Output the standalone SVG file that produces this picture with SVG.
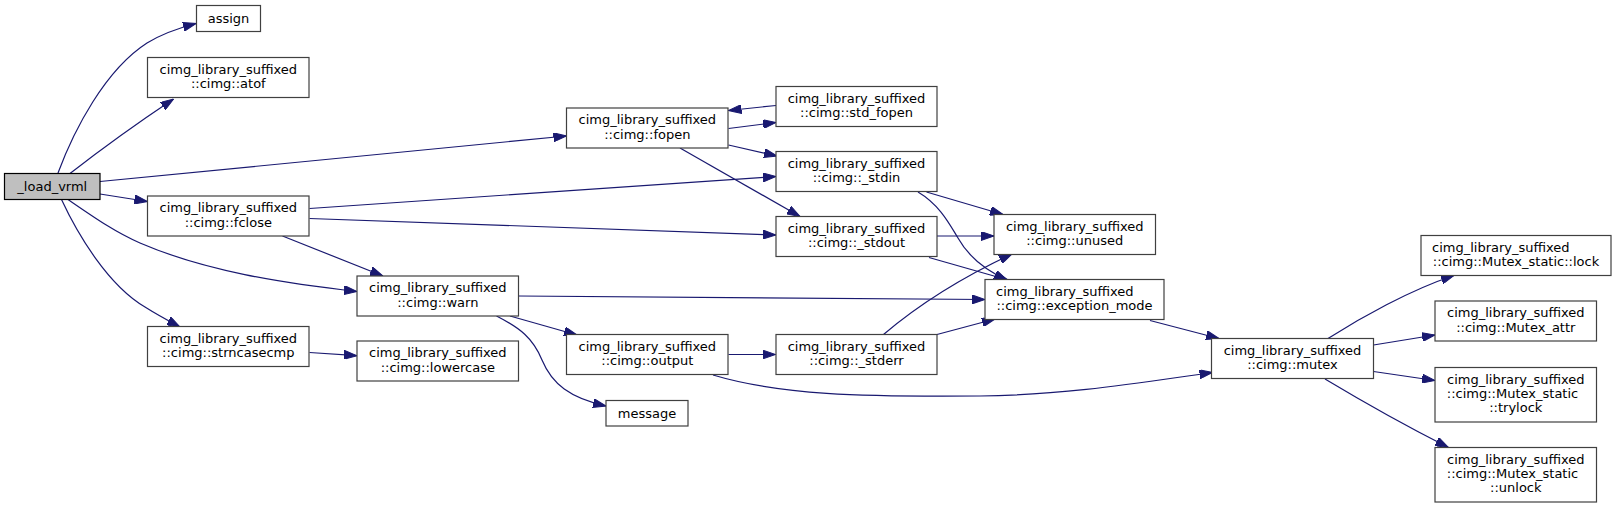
<svg xmlns="http://www.w3.org/2000/svg" width="1616" height="508" viewBox="0 0 1616 508">
<style>
.n rect{fill:#ffffff;stroke:#404040;stroke-width:1.2}
.root rect{fill:#bfbfbf;stroke:#000000}
text{font-family:"DejaVu Sans","Liberation Sans",sans-serif;font-size:13px;fill:#000000;text-anchor:middle}
text.l{text-anchor:start}
#edges path{fill:none;stroke:#191970;stroke-width:1.2;marker-end:url(#ah)}
</style>
<defs>
<marker id="ah" markerUnits="userSpaceOnUse" markerWidth="13" markerHeight="9" refX="13" refY="4.5" orient="auto" viewBox="0 0 13 9">
<path d="M0,0 L13,4.5 L0,9 Z" fill="#191970" stroke="#191970" stroke-width="1"/>
</marker>
</defs>
<rect width="1616" height="508" fill="#ffffff"/>
<g id="edges">
<path d="M58,173 C74,130 105,70 147,43 C160,35 175,29 196,23.5"/>
<path d="M70,173.5 C95,154 130,128 173.5,99"/>
<path d="M100,181.5 L566.5,136"/>
<path d="M100,194 L147.5,201.5"/>
<path d="M68,199.5 C95,218 115,232 140,243 C205,271 282,283 357,291.5"/>
<path d="M61.5,199.5 C78,235 108,285 145,307 C156,314 167,320 180,327"/>
<path d="M309.5,208.5 L776,176.5"/>
<path d="M309.5,218.5 L776,235"/>
<path d="M282.5,236 L383,276"/>
<path d="M309.5,352.5 L357,355.7"/>
<path d="M728.5,128.5 L776,122.5"/>
<path d="M776,105.5 L728.5,110.5"/>
<path d="M728.5,145 L777,156"/>
<path d="M680,148 L800,216.5"/>
<path d="M926.5,192 L1003,214.5"/>
<path d="M918,192 C940,205 950,225 958,238 C968,256 985,270 1007,280"/>
<path d="M937,236 L994,236"/>
<path d="M929,257.5 L1008,280"/>
<path d="M518.5,296 L985,299.5"/>
<path d="M510,316 L577,335"/>
<path d="M496.5,316 C520,328 533,338 542,360 C552,384 570,398 606,406"/>
<path d="M728.5,354.5 L775.5,354.5"/>
<path d="M713,375 C780,395 860,397 980,396 C1070,395 1150,381 1212.5,372.5"/>
<path d="M883.5,334.5 C910,312 950,283 1012,254"/>
<path d="M937,334.5 L995,319"/>
<path d="M1150,320.5 L1219,338.5"/>
<path d="M1328,338.5 C1360,318 1410,290 1454,275.5"/>
<path d="M1373.5,345 L1435,335"/>
<path d="M1373.5,371.5 L1435,380.5"/>
<path d="M1325,379 C1360,400 1410,428 1448.5,447.5"/>
</g>
<g id="n_load_vrml" class="n root"><rect x="4.5" y="173.5" width="95.5" height="26"/><text x="52.3" y="191">_load_vrml</text></g>
<g id="n_assign" class="n"><rect x="196.5" y="5.5" width="64" height="26"/><text x="228.5" y="23">assign</text></g>
<g id="n_atof" class="n"><rect x="147.5" y="57.5" width="161.5" height="40"/><text x="228.3" y="73.5">cimg_library_suffixed</text><text x="228.3" y="88">::cimg::atof</text></g>
<g id="n_fclose" class="n"><rect x="147.5" y="196" width="161.5" height="40"/><text x="228.3" y="212">cimg_library_suffixed</text><text x="228.3" y="226.5">::cimg::fclose</text></g>
<g id="n_strncasecmp" class="n"><rect x="147.5" y="326.5" width="161.5" height="40"/><text x="228.3" y="342.5">cimg_library_suffixed</text><text x="228.3" y="357">::cimg::strncasecmp</text></g>
<g id="n_warn" class="n"><rect x="357" y="276" width="161.5" height="40"/><text x="437.8" y="292">cimg_library_suffixed</text><text x="437.8" y="306.5">::cimg::warn</text></g>
<g id="n_lowercase" class="n"><rect x="357" y="341" width="161.5" height="40"/><text x="437.8" y="357">cimg_library_suffixed</text><text x="437.8" y="371.5">::cimg::lowercase</text></g>
<g id="n_fopen" class="n"><rect x="566.5" y="108" width="161.5" height="40"/><text x="647.3" y="124">cimg_library_suffixed</text><text x="647.3" y="138.5">::cimg::fopen</text></g>
<g id="n_output" class="n"><rect x="566.5" y="334.5" width="161.5" height="40"/><text x="647.3" y="350.5">cimg_library_suffixed</text><text x="647.3" y="365">::cimg::output</text></g>
<g id="n_message" class="n"><rect x="606" y="400.5" width="82" height="25.5"/><text x="647" y="417.5">message</text></g>
<g id="n_std_fopen" class="n"><rect x="776" y="86.5" width="161" height="40"/><text x="856.5" y="102.5">cimg_library_suffixed</text><text x="856.5" y="117">::cimg::std_fopen</text></g>
<g id="n_stdin" class="n"><rect x="776" y="151.5" width="161" height="40"/><text x="856.5" y="167.5">cimg_library_suffixed</text><text x="856.5" y="182">::cimg::_stdin</text></g>
<g id="n_stdout" class="n"><rect x="776" y="216.5" width="161" height="40"/><text x="856.5" y="232.5">cimg_library_suffixed</text><text x="856.5" y="247">::cimg::_stdout</text></g>
<g id="n_stderr" class="n"><rect x="776" y="334.5" width="161" height="40"/><text x="856.5" y="350.5">cimg_library_suffixed</text><text x="856.5" y="365">::cimg::_stderr</text></g>
<g id="n_unused" class="n"><rect x="994" y="214.5" width="161.5" height="40"/><text x="1074.7" y="230.5">cimg_library_suffixed</text><text x="1074.7" y="245">::cimg::unused</text></g>
<g id="n_exception_mode" class="n"><rect x="985" y="279.5" width="179" height="40"/><text class="l" x="996" y="295.5">cimg_library_suffixed</text><text x="1074.5" y="310">::cimg::exception_mode</text></g>
<g id="n_mutex" class="n"><rect x="1211.5" y="338.5" width="162" height="40"/><text x="1292.5" y="354.5">cimg_library_suffixed</text><text x="1292.5" y="369">::cimg::mutex</text></g>
<g id="n_lock" class="n"><rect x="1421" y="235.5" width="190" height="40"/><text class="l" x="1432" y="251.5">cimg_library_suffixed</text><text x="1516" y="266">::cimg::Mutex_static::lock</text></g>
<g id="n_mutex_attr" class="n"><rect x="1435" y="301" width="161.5" height="40"/><text x="1515.8" y="317">cimg_library_suffixed</text><text x="1515.8" y="331.5">::cimg::Mutex_attr</text></g>
<g id="n_trylock" class="n"><rect x="1435" y="367.5" width="161.5" height="54.5"/><text x="1515.8" y="383.5">cimg_library_suffixed</text><text class="l" x="1446.8" y="397.7">::cimg::Mutex_static</text><text x="1515.8" y="412">::trylock</text></g>
<g id="n_unlock" class="n"><rect x="1435" y="447.5" width="161.5" height="54.5"/><text x="1515.8" y="463.5">cimg_library_suffixed</text><text class="l" x="1446.8" y="477.7">::cimg::Mutex_static</text><text x="1515.8" y="492">::unlock</text></g>
</svg>
